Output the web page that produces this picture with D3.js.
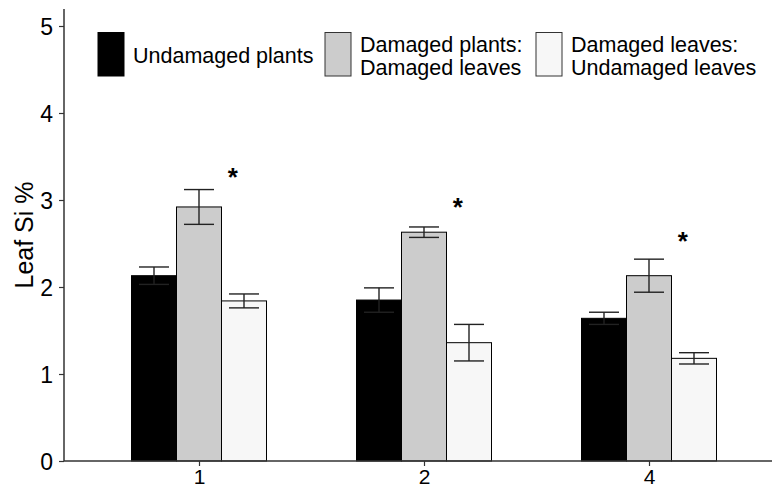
<!DOCTYPE html>
<html>
<head>
<meta charset="utf-8">
<script src="https://cdn.jsdelivr.net/npm/d3@7"></script>
<style>
  body { margin: 0; background: #fff; }
  text { font-family: "Liberation Sans", Arial, sans-serif; fill: #000; }
</style>
</head>
<body>
<svg width="772" height="491"></svg>
<script>
// chart data
const groups = ["1", "2", "4"];
const series = ["Undamaged plants", "Damaged plants:\nDamaged leaves", "Damaged leaves:\nUndamaged leaves"];
const fills = ["#000000", "#cccccc", "#f7f7f7"];
const means = [
  [2.13, 2.92, 1.84],
  [1.85, 2.63, 1.36],
  [1.64, 2.13, 1.18]
];
const errors = [
  [0.10, 0.20, 0.08],
  [0.14, 0.06, 0.21],
  [0.07, 0.19, 0.065]
];
const starY = [3.31, 2.97, 2.57];
const yTicks = [0, 1, 2, 3, 4, 5];

const svg = d3.select("svg");
const left = 64, bottom = 461;

const x = d3.scalePoint().domain(groups).range([left, 784]).padding(0.6);
const step = x.step();
const barW = step * 0.2;
const y = d3.scaleLinear().domain([0, 5]).range([bottom, 26]);

const g = svg.append("g");

// bars
groups.forEach((grp, i) => {
  const cx = x(grp);
  means[i].forEach((v, j) => {
    const bx = cx + (j - 1.5) * barW;
    g.append("rect")
      .attr("x", bx).attr("y", y(v))
      .attr("width", barW).attr("height", y(0) - y(v))
      .attr("fill", fills[j])
      .attr("stroke", "#000").attr("stroke-width", 1);
  });
  // error bars
  means[i].forEach((v, j) => {
    const mx = cx + (j - 1) * barW;
    const hw = barW / 3;
    const top = y(v + errors[i][j]), bot = y(v - errors[i][j]);
    const eg = g.append("g").attr("stroke", "#222").attr("stroke-width", 1.4);
    eg.append("line").attr("x1", mx).attr("x2", mx).attr("y1", top).attr("y2", bot);
    eg.append("line").attr("x1", mx - hw).attr("x2", mx + hw).attr("y1", top).attr("y2", top);
    eg.append("line").attr("x1", mx - hw).attr("x2", mx + hw).attr("y1", bot).attr("y2", bot);
  });
  g.append("text")
    .attr("x", cx + barW * 0.75).attr("y", y(starY[i]) + 13)
    .attr("text-anchor", "middle")
    .style("font-size", "26px").style("font-weight", "bold")
    .text("*");
});

// y axis
const yAxis = svg.append("g")
  .attr("transform", `translate(${left},0)`)
  .call(d3.axisLeft(y).tickValues(yTicks).tickSize(5).tickPadding(6).tickFormat(d3.format("d")));
yAxis.select(".domain").remove();
yAxis.append("line").attr("x1", 0).attr("x2", 0).attr("y1", 9).attr("y2", bottom)
  .attr("stroke", "#333").attr("stroke-width", 1.5);
yAxis.selectAll(".tick line").attr("stroke", "#333").attr("stroke-width", 1.2);
yAxis.selectAll(".tick text").style("font-size", "23px").attr("fill", "#000").attr("dy", "0.35em");

// x axis
const xAxis = svg.append("g")
  .attr("transform", `translate(0,${bottom})`)
  .call(d3.axisBottom(x).tickSize(5).tickPadding(3));
xAxis.select(".domain").remove();
xAxis.append("line").attr("x1", left).attr("x2", 772).attr("y1", 0).attr("y2", 0)
  .attr("stroke", "#333").attr("stroke-width", 1.5);
xAxis.selectAll(".tick line").attr("stroke", "#333").attr("stroke-width", 1.2);
xAxis.selectAll(".tick text").style("font-size", "21px").attr("fill", "#000");

// y label
svg.append("text")
  .attr("transform", "translate(33,235) rotate(-90)")
  .attr("text-anchor", "middle")
  .style("font-size", "25px")
  .text("Leaf Si %");

// legend
const legendX = [98, 325, 536];
const legend = svg.append("g");
series.forEach((s, j) => {
  legend.append("rect")
    .attr("x", legendX[j]).attr("y", 32.5)
    .attr("width", 26).attr("height", 43.5)
    .attr("fill", fills[j]).attr("stroke", j === 0 ? "#000" : "#333").attr("stroke-width", 1);
  const lines = s.split("\n");
  const t = legend.append("text")
    .style("font-size", "21.5px");
  lines.forEach((ln, k) => {
    t.append("tspan")
      .attr("x", legendX[j] + 35)
      .attr("y", 63 + (k - (lines.length - 1) / 2) * 23)
      .text(ln);
  });
});
</script>
</body>
</html>
